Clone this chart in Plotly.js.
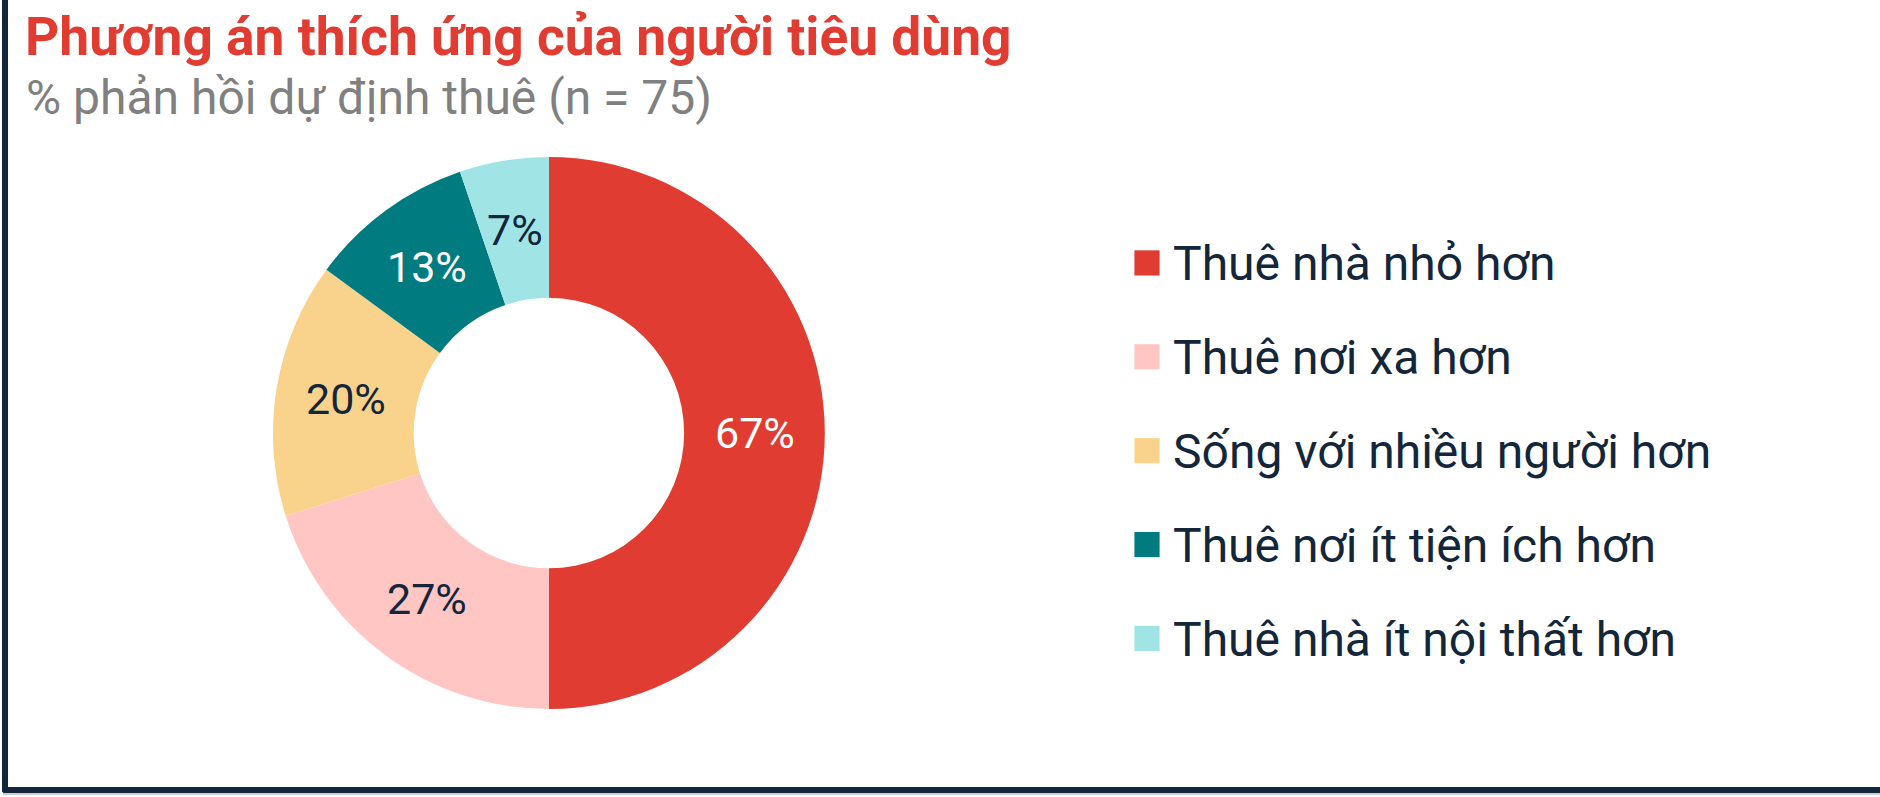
<!DOCTYPE html>
<html>
<head>
<meta charset="utf-8">
<script src="https://cdn.plot.ly/plotly-3.0.1.min.js"></script>
<style>
  html, body { margin: 0; padding: 0; background: #ffffff; }
  #wrap { position: relative; width: 1880px; height: 797px; overflow: hidden; }
  #chart { position: absolute; left: 0; top: 0; width: 1880px; height: 797px; }
  #frame { position: absolute; left: 2px; top: 0; width: 1878px; height: 793px;
           box-sizing: border-box; border-left: 6px solid #13263a; border-bottom: 6px solid #13263a;
           border-bottom-left-radius: 3px; pointer-events: none; }
  #shadow { position: absolute; left: 3px; top: 793px; width: 1877px; height: 2px; background: #c9ccd0; pointer-events: none; }
  .legendpie { transform: translate(14px, -8px) scale(2.1); }
</style>
</head>
<body>
<div id="wrap">
  <div id="chart"></div>
  <div id="frame"></div>
  <div id="shadow"></div>
</div>
<script>
// ---- data ----
const categories = [
  "Thuê nhà nhỏ hơn",
  "Thuê nơi xa hơn",
  "Sống với nhiều người hơn",
  "Thuê nơi ít tiện ích hơn",
  "Thuê nhà ít nội thất hơn"
];
const values = [67, 27, 20, 13, 7];
const sliceColors = ["#E03C31", "#FFC6C4", "#F9D38C", "#007B7F", "#A0E4E6"];
const labelColors = ["#FFFFFF", "#13263A", "#13263A", "#FFFFFF", "#13263A"];

const titleText = "Phương án thích ứng của người tiêu dùng";
const subtitleText = "% phản hồi dự định thuê (n = 75)";

// ---- geometry of the donut (layout, not data) ----
const W = 1880, H = 797;
const domX = [0.1452, 0.4388], domY = [0.1104, 0.803];
const HOLE = 0.49;

// legend entries: label on middle line, blank lines above/below for row spacing
const legendLabels = categories.map(c => '<br><span style="font-size:48px">' + c + '</span><br>');

const trace = {
  type: 'pie',
  labels: legendLabels,
  values: values,
  sort: false,
  direction: 'clockwise',
  rotation: 0,
  hole: HOLE,
  marker: { colors: sliceColors, line: { width: 0 } },
  textinfo: 'none',
  hoverinfo: 'skip',
  domain: { x: domX, y: domY }
};

// value labels centred in the ring, at each slice's mid-angle (derived from values)
const total = values.reduce((a, b) => a + b, 0);
const cxPx = (domX[0] + domX[1]) / 2 * W;
const cyPx = (domY[0] + domY[1]) / 2 * H;
const rOuter = Math.min((domX[1] - domX[0]) * W, (domY[1] - domY[0]) * H) / 2;
const rMid = rOuter * (1 + HOLE) / 2;
let cum = 0;
const valueLabels = values.map((v, i) => {
  const mid = (cum + v / 2) / total * 2 * Math.PI;
  cum += v;
  return {
    text: v + '%',
    xref: 'paper', yref: 'paper',
    x: (cxPx + rMid * Math.sin(mid)) / W,
    y: (cyPx + rMid * Math.cos(mid)) / H,
    xanchor: 'center', yanchor: 'middle',
    showarrow: false,
    font: { family: 'Roboto, sans-serif', size: 43, color: labelColors[i] }
  };
});

const layout = {
  width: W,
  height: H,
  margin: { l: 0, r: 0, t: 0, b: 0 },
  paper_bgcolor: '#ffffff',
  plot_bgcolor: '#ffffff',
  font: { family: 'Roboto, sans-serif', color: '#13263A' },
  title: {
    text: '<b>' + titleText + '</b>',
    font: { family: 'Roboto, sans-serif', size: 53.3, color: '#E03C31' },
    x: 25 / W, xref: 'container', xanchor: 'left',
    y: 1 - 36 / H, yref: 'container', yanchor: 'middle'
  },
  annotations: [{
    text: subtitleText,
    xref: 'paper', yref: 'paper',
    x: 24 / W, xanchor: 'left',
    y: 1 - 98 / H, yanchor: 'middle',
    showarrow: false,
    font: { family: 'Roboto, sans-serif', size: 48, color: '#808080' }
  }].concat(valueLabels),
  showlegend: true,
  legend: {
    x: 1133 / W, xanchor: 'left',
    y: 1 - 459 / H, yanchor: 'middle',
    font: { family: 'Roboto, sans-serif', size: 23.3, color: '#13263A' },
    bgcolor: 'rgba(0,0,0,0)',
    borderwidth: 0,
    valign: 'middle'
  }
};

Plotly.newPlot('chart', [trace], layout, { displayModeBar: false, staticPlot: true });
</script>
</body>
</html>
